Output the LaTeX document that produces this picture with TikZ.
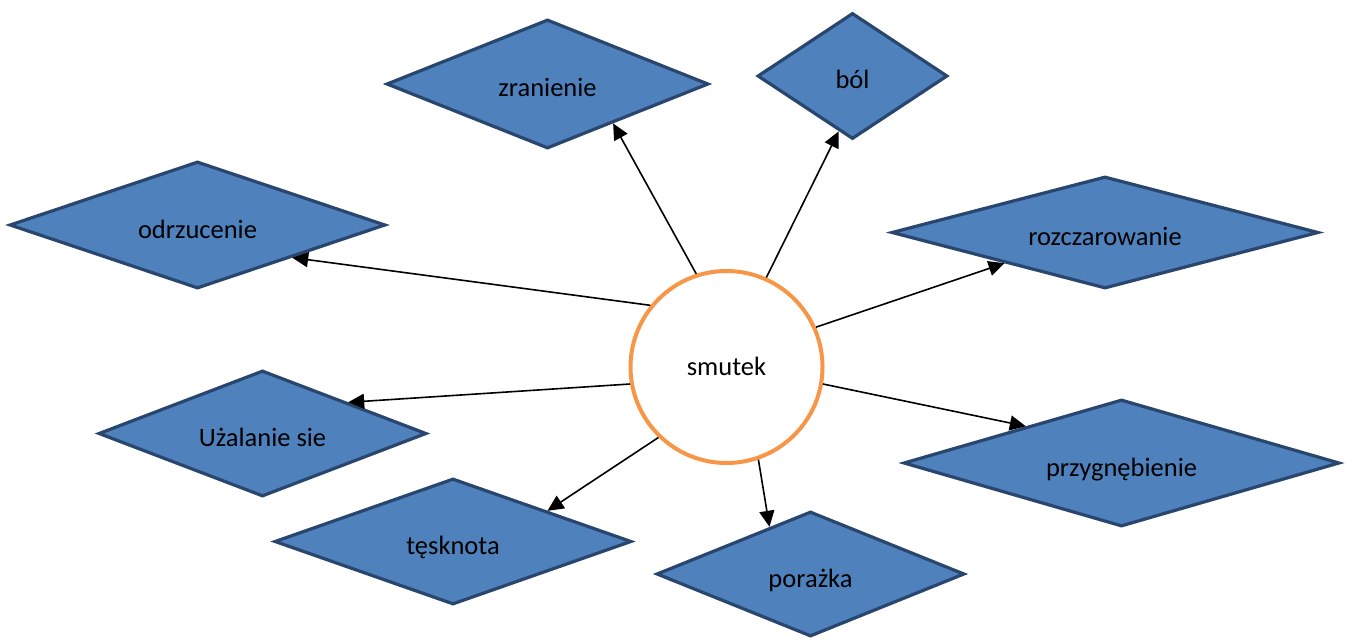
\documentclass[tikz,border=0pt]{standalone}
\usepackage{fontspec}
\setmainfont{Carlito}
\usetikzlibrary{shapes.geometric,arrows.meta}
\definecolor{boxfill}{RGB}{79,129,189}
\definecolor{boxline}{RGB}{40,70,110}
\definecolor{ringline}{RGB}{247,150,70}
\begin{document}
\begin{tikzpicture}[x=1pt,y=-1pt,
  every node/.style={font=\fontsize{26.5}{32}\selectfont},
  dia/.style={diamond, shape aspect=2, inner sep=0pt, fill=boxfill,
    draw=boxline, line width=3.2pt, text height=26pt, text depth=0pt},
  ring/.style={circle, inner sep=0pt, fill=white, draw=ringline,
    line width=4pt, minimum size=192pt, text height=16pt, text depth=0pt},
  link/.style={-{Triangle[length=16pt,width=15pt]}, line width=1.6pt, black}]
\fill[white] (0,0) rectangle (1356,639);
\useasboundingbox (0,0) rectangle (1356,639);

% central concept
\node[ring] (smutek) at (726.5,367) {smutek};

% surrounding feelings
\node[dia, minimum width=322pt, minimum height=129pt] (zran) at (547.5,84) {zranienie};
\node[dia, minimum width=190pt, minimum height=126pt] (bol) at (852.5,76) {ból};
\node[dia, minimum width=376pt, minimum height=127pt] (odrz) at (197.5,225) {odrzucenie};
\node[dia, minimum width=427pt, minimum height=112pt] (rozcz) at (1105,232.5) {rozczarowanie};
\node[dia, minimum width=328pt, minimum height=126pt] (uzal) at (262.5,433.5) {Użalanie sie};
\node[dia, minimum width=436pt, minimum height=127pt] (przyg) at (1121.5,463) {przygnębienie};
\node[dia, minimum width=357pt, minimum height=126pt] (tesk) at (453,541.5) {tęsknota};
\node[dia, minimum width=308pt, minimum height=125pt] (poraz) at (810.5,574) {porażka};

% connectors from the centre outwards
\draw[link] (smutek.108.9) -- (zran.-31.6);
\draw[link] (smutek.66.7) -- (bol.256.2);
\draw[link] (smutek.141.3) -- (odrz.-19.2);
\draw[link] (smutek.24.9) -- (rozcz.197.7);
\draw[link] (smutek.190) -- (uzal.20.4);
\draw[link] (smutek.-10) -- (przyg.159.5);
\draw[link] (smutek.226) -- (tesk.18.1);
\draw[link] (smutek.-71) -- (poraz.131.8);
\end{tikzpicture}
\end{document}
